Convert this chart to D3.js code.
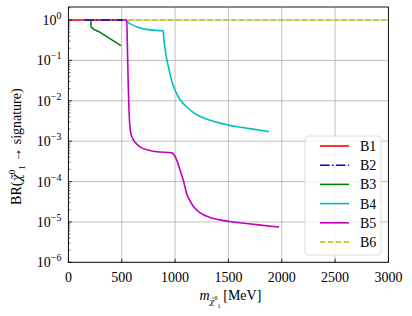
<!DOCTYPE html>
<html>
<head>
<meta charset="utf-8">
<script src="https://cdn.jsdelivr.net/npm/d3@7"></script>
<style>
  body { margin: 0; background: #fff; }
  svg text { font-family: "Liberation Serif", "DejaVu Serif", serif; fill: #000; }
  .chi { font-family: "DejaVu Serif", serif; }
</style>
</head>
<body>
<div id="chart"></div>
<script>
// values (mass in MeV, BR as log10)
const seriesNames = ['B1', 'B2', 'B3', 'B4', 'B5', 'B6'];
const b1Mass = [0, 515];
const b1LogBR = [0, 0];
const b2Mass = [150, 515];
const b2LogBR = [0, 0];
const b3Mass = [205, 211, 212, 300, 400, 493];
const b3LogBR = [0, 0, -0.166, -0.313, -0.48, -0.635];
const b4Mass = [530, 537, 560, 600, 640, 700, 765, 830, 889, 893, 900, 910, 924, 950, 975, 1000, 1046, 1100, 1186, 1300, 1496, 1700, 1880];
const b4LogBR = [0, 0, -0.06, -0.12, -0.166, -0.215, -0.245, -0.26, -0.265, -0.4, -0.6, -0.78, -0.99, -1.3, -1.56, -1.74, -1.97, -2.13, -2.32, -2.46, -2.6, -2.69, -2.76];
const b5Mass = [515, 540, 547, 552, 556, 561, 565, 572, 580, 592, 608, 640, 671, 765, 859, 940, 968, 985, 1000, 1020, 1046, 1077, 1109, 1140, 1171, 1233, 1327, 1421, 1514, 1671, 1800, 1975];
const b5LogBR = [0, 0, 0, -0.5, -1.0, -1.6, -1.98, -2.45, -2.72, -2.87, -2.96, -3.07, -3.14, -3.23, -3.27, -3.28, -3.29, -3.32, -3.38, -3.5, -3.71, -3.97, -4.3, -4.48, -4.61, -4.77, -4.89, -4.95, -4.99, -5.04, -5.08, -5.13];
const b6Mass = [561, 3000];
const b6LogBR = [0, 0];
const xTicks = [0, 500, 1000, 1500, 2000, 2500, 3000];
const yExponents = [0, -1, -2, -3, -4, -5, -6];

const colors = ['#ff0000', '#0000ff', '#008000', '#00bfbf', '#bf00bf', '#bfbf00'];
const dashes = [null, '9.6,2.4,1.5,2.4', null, null, null, '5.5,2.4'];

(function () {
    const width = 412, height = 316;
    const plot = { left: 68.4, right: 388.4, top: 7, bottom: 262.3 };

    const x = d3.scaleLinear().domain([0, 3000]).range([plot.left, plot.right]);
    const y = d3.scaleLog().domain([1e-6, Math.pow(10, 0.322)]).range([plot.bottom, plot.top]);

    const masses = [b1Mass, b2Mass, b3Mass, b4Mass, b5Mass, b6Mass];
    const logs = [b1LogBR, b2LogBR, b3LogBR, b4LogBR, b5LogBR, b6LogBR];
    const series = seriesNames.map((name, i) => ({
        name: name,
        color: colors[i],
        dash: dashes[i],
        points: masses[i].map((m, j) => [m, Math.pow(10, logs[i][j])])
    }));

    const svg = d3.select('#chart').append('svg')
        .attr('width', width)
        .attr('height', height);

    // grid
    const grid = svg.append('g').attr('stroke', '#b0b0b0').attr('stroke-width', 0.8);
    grid.selectAll('line.gx').data(xTicks).join('line')
        .attr('x1', d => x(d)).attr('x2', d => x(d))
        .attr('y1', plot.top).attr('y2', plot.bottom);
    grid.selectAll('line.gy').data(yExponents).join('line')
        .attr('x1', plot.left).attr('x2', plot.right)
        .attr('y1', d => y(Math.pow(10, d))).attr('y2', d => y(Math.pow(10, d)));

    // curves
    const line = d3.line()
        .x(d => x(d[0]))
        .y(d => y(d[1]))
        .curve(d3.curveMonotoneX);

    svg.append('defs').append('clipPath').attr('id', 'clip')
        .append('rect')
        .attr('x', plot.left).attr('y', plot.top)
        .attr('width', plot.right - plot.left).attr('height', plot.bottom - plot.top);

    svg.append('g').attr('clip-path', 'url(#clip)')
        .selectAll('path').data(series).join('path')
        .attr('d', d => line(d.points))
        .attr('fill', 'none')
        .attr('stroke', d => d.color)
        .attr('stroke-width', 1.6)
        .attr('stroke-dasharray', d => d.dash);

    // frame
    svg.append('rect')
        .attr('x', plot.left).attr('y', plot.top)
        .attr('width', plot.right - plot.left).attr('height', plot.bottom - plot.top)
        .attr('fill', 'none').attr('stroke', '#000').attr('stroke-width', 0.9);

    // x ticks (inward)
    const xAxis = svg.append('g');
    xAxis.selectAll('line').data(xTicks).join('line')
        .attr('x1', d => x(d)).attr('x2', d => x(d))
        .attr('y1', plot.bottom).attr('y2', plot.bottom - 3.5)
        .attr('stroke', '#000').attr('stroke-width', 0.8);
    xAxis.selectAll('text').data(xTicks).join('text')
        .attr('x', d => x(d)).attr('y', plot.bottom + 20)
        .attr('text-anchor', 'middle')
        .style('font-size', '14px')
        .text(d => d);

    // y ticks (log, inward)
    const minor = [];
    for (let e = -6; e < 0; e++) {
        for (let k = 2; k <= 9; k++) minor.push(k * Math.pow(10, e));
    }
    minor.push(2);
    const yAxis = svg.append('g');
    yAxis.selectAll('line.minor').data(minor).join('line')
        .attr('class', 'minor')
        .attr('x1', plot.left).attr('x2', plot.left + 2)
        .attr('y1', d => y(d)).attr('y2', d => y(d))
        .attr('stroke', '#000').attr('stroke-width', 0.6);
    yAxis.selectAll('line.major').data(yExponents).join('line')
        .attr('class', 'major')
        .attr('x1', plot.left).attr('x2', plot.left + 3.5)
        .attr('y1', d => y(Math.pow(10, d))).attr('y2', d => y(Math.pow(10, d)))
        .attr('stroke', '#000').attr('stroke-width', 0.8);
    const yLabels = yAxis.selectAll('text').data(yExponents).join('text')
        .attr('x', plot.left - 7)
        .attr('y', d => y(Math.pow(10, d)) + 5)
        .attr('text-anchor', 'end')
        .style('font-size', '14px');
    yLabels.append('tspan').text('10');
    yLabels.append('tspan')
        .attr('dy', -6)
        .style('font-size', '10px')
        .text(d => d === 0 ? '0' : '\u2212' + (-d));

    // axis titles
    const xt = svg.append('text')
        .attr('x', (plot.left + plot.right) / 2 + 2)
        .attr('y', 300)
        .attr('text-anchor', 'middle')
        .style('font-size', '14px');
    xt.append('tspan').style('font-style', 'italic').text('m');
    xt.append('tspan').attr('class', 'chi').attr('dy', 4).style('font-size', '8px').style('font-style', 'italic').text('\u03c7\u0303');
    xt.append('tspan').attr('dy', -4).style('font-size', '6px').text('0');
    xt.append('tspan').attr('dy', 8).style('font-size', '6px').text('1');
    xt.append('tspan').attr('dy', -8).text('\u2009[MeV]');

    const yt = svg.append('text')
        .attr('transform', 'translate(21,' + ((plot.top + plot.bottom) / 2 + 12) + ') rotate(-90)')
        .attr('text-anchor', 'middle')
        .style('font-size', '14px');
    yt.append('tspan').text('BR(');
    yt.append('tspan').attr('class', 'chi').style('font-style', 'italic').style('font-size', '12px').text('\u03c7\u0303');
    yt.append('tspan').attr('dy', -6).style('font-size', '9px').text('0');
    yt.append('tspan').attr('dy', 10).style('font-size', '9px').text('1');
    yt.append('tspan').attr('dy', -4).text(' \u2192 signature)');

    // legend
    const lg = svg.append('g');
    lg.append('rect')
        .attr('x', 305).attr('y', 136).attr('width', 76).attr('height', 119)
        .attr('rx', 3)
        .attr('fill', '#fff').attr('fill-opacity', 0.8)
        .attr('stroke', '#d6d6d6').attr('stroke-width', 0.8);
    const items = lg.selectAll('g.item').data(series).join('g')
        .attr('class', 'item')
        .attr('transform', (d, i) => 'translate(0,' + (146 + i * 19.2) + ')');
    items.append('line')
        .attr('x1', 320).attr('x2', 349)
        .attr('stroke', d => d.color)
        .attr('stroke-width', 1.6)
        .attr('stroke-dasharray', d => d.dash);
    items.append('text')
        .attr('x', 360).attr('y', 5)
        .style('font-size', '14px')
        .text(d => d.name);
})();
</script>
</body>
</html>
